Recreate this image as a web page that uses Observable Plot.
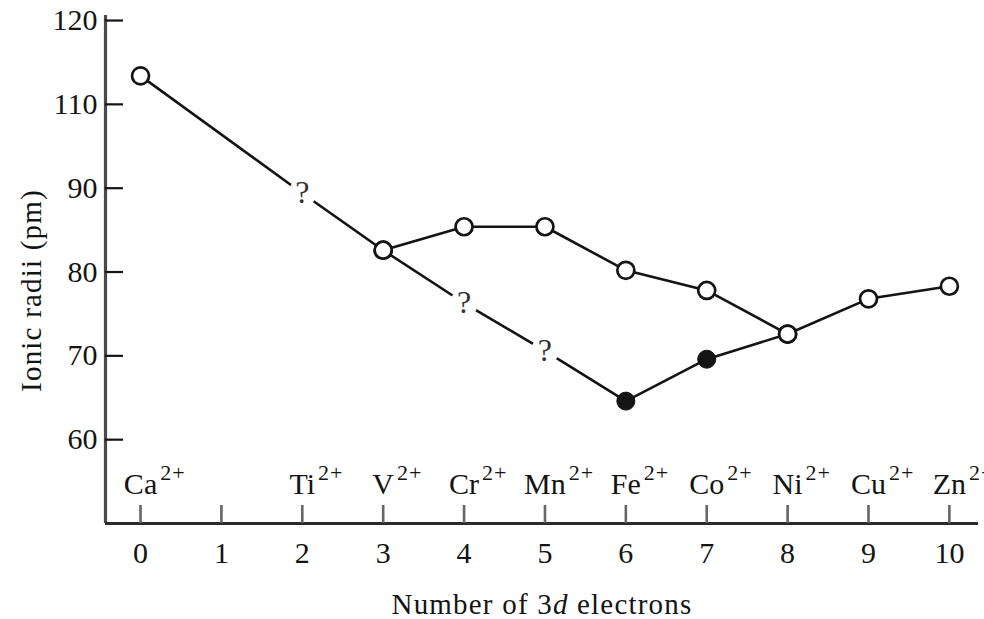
<!DOCTYPE html>
<html>
<head>
<meta charset="utf-8">
<script src="https://cdn.jsdelivr.net/npm/d3@7"></script>
<script src="https://cdn.jsdelivr.net/npm/@observablehq/plot@0.6"></script>
<style>
  body { margin: 0; background: #fff; }
  #chart { width: 984px; height: 619px; overflow: hidden; }
</style>
</head>
<body>
<div id="chart"></div>
<script>
// ---- data (y values are positions on the printed, evenly spaced axis) ----
const electrons = [0, 1, 2, 3, 4, 5, 6, 7, 8, 9, 10];
const ionX = [0, 2, 3, 4, 5, 6, 7, 8, 9, 10];
const ionSymbols = ["Ca", "Ti", "V", "Cr", "Mn", "Fe", "Co", "Ni", "Cu", "Zn"];
const ionCharge = "2+";

const upperX = [0, 2, 3, 4, 5, 6, 7, 8, 9, 10];
const upperY = [103.4, 89.4, 82.6, 85.4, 85.4, 80.2, 77.8, 72.6, 76.8, 78.3];
const upperKind = ["open", "unknown", "open", "open", "open", "open", "open", "open", "open", "open"];

const lowerX = [3, 4, 5, 6, 7, 8];
const lowerY = [82.6, 76.3, 70.6, 64.6, 69.6, 72.6];
const lowerKind = ["open", "unknown", "unknown", "filled", "filled", "open"];

// the printed axis skips 100: tick at 100 is labelled "110", at 110 "120"
const yTickValues = [60, 70, 80, 90, 100, 110];
const yTickLabels = ["60", "70", "80", "90", "110", "120"];

const xTitle = "Number of 3d electrons";
const yTitle = "Ionic radii (pm)";

// ---- tables ----
const upper = upperX.map((x, i) => ({x, y: upperY[i], kind: upperKind[i]}));
const lower = lowerX.map((x, i) => ({x, y: lowerY[i], kind: lowerKind[i]}));
const points = upper.concat(lower);
const ions = ionX.map((x, i) => ({x, label: ionSymbols[i] + ionCharge, sym: ionSymbols[i]}));

const xDomain = [-0.433, 10.36];
const yDomain = [50, 110.6];
const ink = "#141414";
const serif = "'Liberation Serif', 'Times New Roman', serif";

const plot = Plot.plot({
  width: 984,
  height: 619,
  marginLeft: 105,
  marginRight: 6,
  marginTop: 15,
  marginBottom: 96,
  style: {fontFamily: serif, fontSize: "30px", color: ink, background: "#fff"},
  x: {domain: xDomain, axis: null},
  y: {domain: yDomain, axis: null},
  marks: [
    Plot.line(upper, {x: "x", y: "y", stroke: ink, strokeWidth: 2.6}),
    Plot.line(lower, {x: "x", y: "y", stroke: ink, strokeWidth: 2.6}),
    // gaps in the lines behind the question marks
    Plot.dot(points.filter(d => d.kind === "unknown"), {x: "x", y: "y", r: 14, fill: "#fff", stroke: null}),
    Plot.text(points.filter(d => d.kind === "unknown"), {x: "x", y: "y", text: () => "?", fill: "#333", fontSize: 32}),
    Plot.dot(points.filter(d => d.kind === "open"), {x: "x", y: "y", r: 8.5, fill: "#fff", stroke: ink, strokeWidth: 2.7}),
    Plot.dot(points.filter(d => d.kind === "filled"), {x: "x", y: "y", r: 9, fill: ink, stroke: ink, strokeWidth: 1}),
    // axis lines
    Plot.ruleX([xDomain[0]], {stroke: "#4a4a4a", strokeWidth: 3.2}),
    Plot.ruleY([yDomain[0]], {stroke: "#2a2a2a", strokeWidth: 3.2}),
    // axes with inward ticks
    Plot.axisX({ticks: electrons, tickSize: -18, tickPadding: 36, tickFormat: d => String(d),
      stroke: "#666", strokeWidth: 2.6, fill: ink, fontSize: 30, label: null}),
    Plot.axisY({ticks: yTickValues, tickSize: -18, tickPadding: 26,
      tickFormat: d => yTickLabels[yTickValues.indexOf(d)],
      stroke: ink, strokeWidth: 2.2, fill: ink, fontSize: 30, label: null}),
    // ion labels
    Plot.text(ions, {x: "x", frameAnchor: "bottom", dy: -39, text: "label", textAnchor: "middle",
      lineAnchor: "middle", fill: ink, fontSize: 30}),
    // axis titles
    Plot.text([xTitle], {frameAnchor: "bottom", dy: 81, text: d => d, textAnchor: "middle", lineAnchor: "middle", fill: ink, fontSize: 29}),
    Plot.text([yTitle], {frameAnchor: "left", dx: -74, dy: 21, rotate: -90, text: d => d, textAnchor: "middle", lineAnchor: "middle", fill: ink, fontSize: 29})
  ]
});

document.getElementById("chart").append(plot);

// ---- rich text: superscript charges, italic "d" ----
const NS = "http://www.w3.org/2000/svg";
const ionByLabel = new Map(ions.map(d => [d.label, d]));
plot.querySelectorAll("text").forEach(t => {
  const s = t.textContent;
  if (ionByLabel.has(s)) {
    const d = ionByLabel.get(s);
    t.textContent = "";
    const a = document.createElementNS(NS, "tspan");
    a.textContent = d.sym;
    const b = document.createElementNS(NS, "tspan");
    b.textContent = ionCharge;
    b.setAttribute("dy", "-14");
    b.setAttribute("dx", "3");
    b.setAttribute("font-size", "22");
    b.setAttribute("letter-spacing", "1");
    t.append(a, b);
    t.setAttribute("text-anchor", "start");
    const w = a.getComputedTextLength();
    a.setAttribute("dx", String(-w / 2));
  } else if (s === xTitle) {
    const i = s.indexOf("3d") + 1;
    t.textContent = "";
    const p1 = document.createElementNS(NS, "tspan"); p1.textContent = s.slice(0, i);
    const p2 = document.createElementNS(NS, "tspan"); p2.textContent = s.slice(i, i + 1); p2.setAttribute("font-style", "italic");
    const p3 = document.createElementNS(NS, "tspan"); p3.textContent = s.slice(i + 1);
    t.append(p1, p2, p3);
    t.setAttribute("letter-spacing", "1.2");
  } else if (s === yTitle) {
    t.setAttribute("letter-spacing", "1.2");
  }
});
</script>
</body>
</html>
